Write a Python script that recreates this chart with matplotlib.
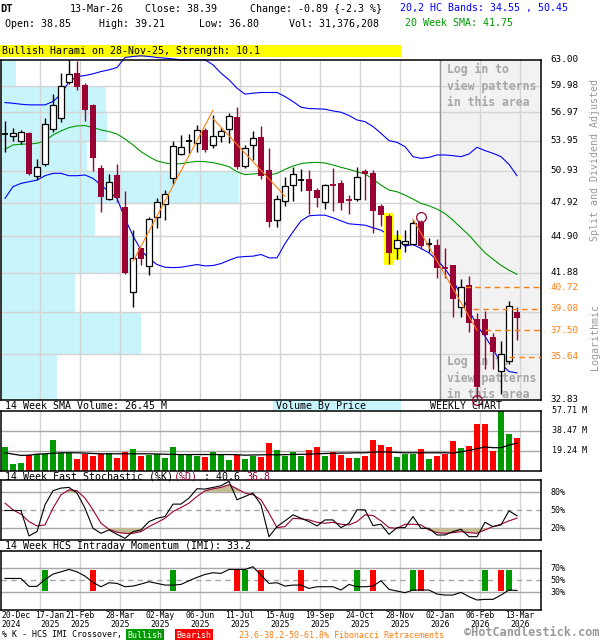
import numpy as np
import matplotlib
matplotlib.use('Agg')
import matplotlib.pyplot as plt
from matplotlib.patches import Rectangle
from matplotlib.transforms import blended_transform_factory
from matplotlib.ticker import NullLocator

plt.rcParams['font.family'] = 'DejaVu Sans Mono'

# DT weekly bars, 20-Dec-2024 .. 13-Mar-2026
opens = [54.60, 54.42, 53.97, 54.77, 50.45, 51.63, 55.23, 56.40, 60.37, 61.47,
         60.06, 57.80, 51.17, 48.21, 50.52, 47.50, 40.36, 43.95, 42.43, 46.62,
         47.74, 50.19, 52.64, 53.90, 53.69, 55.05, 53.49, 54.42, 55.16, 56.48,
         51.40, 53.52, 54.38, 51.00, 46.38, 48.08, 49.52, 49.98, 50.13, 49.08,
         47.99, 49.65, 49.75, 48.20, 48.27, 50.90, 50.71, 47.62, 46.71, 43.93,
         44.26, 44.26, 46.18, 44.20, 44.15, 42.37, 42.48, 39.23, 40.88, 38.29,
         38.29, 36.98, 34.69, 35.32, 38.85]
highs = [56.04, 55.26, 55.09, 54.90, 52.06, 56.40, 58.99, 61.43, 63.00, 62.82,
         60.25, 57.90, 51.50, 50.62, 51.60, 48.98, 45.44, 43.95, 46.65, 48.36,
         49.08, 53.93, 54.56, 54.63, 55.62, 55.33, 56.70, 55.26, 56.95, 57.58,
         53.52, 54.98, 55.55, 53.25, 48.61, 50.32, 51.33, 51.10, 51.00, 49.30,
         49.62, 51.17, 50.06, 48.61, 51.27, 51.10, 51.00, 47.77, 46.83, 45.44,
         45.44, 46.38, 46.30, 44.80, 44.66, 43.93, 42.48, 41.35, 41.59, 38.78,
         38.88, 37.32, 36.70, 39.64, 39.21]
lows = [52.84, 53.93, 53.59, 50.52, 50.03, 51.43, 54.91, 55.97, 60.20, 59.49,
        56.04, 50.90, 47.07, 48.15, 47.99, 41.76, 39.21, 42.48, 41.67, 45.59,
        46.35, 49.68, 52.50, 52.74, 52.84, 52.84, 53.25, 53.86, 53.69, 51.10,
        51.17, 51.99, 50.13, 45.74, 45.74, 47.62, 48.05, 48.98, 46.89, 47.50,
        47.32, 47.13, 47.22, 46.89, 48.05, 48.11, 45.21, 45.79, 42.62, 43.03,
        43.59, 44.15, 43.82, 43.59, 41.46, 41.46, 38.46, 38.46, 37.37, 32.83,
        34.82, 34.82, 33.19, 35.16, 36.80]
closes = [54.70, 54.73, 54.84, 50.65, 51.27, 55.69, 57.76, 59.91, 61.31, 59.87,
          57.25, 52.23, 48.46, 49.81, 48.30, 41.89, 43.11, 43.00, 46.41, 47.93,
          48.67, 53.42, 53.28, 53.95, 55.05, 53.01, 54.42, 54.95, 56.55, 51.33,
          53.25, 54.21, 50.45, 46.18, 48.21, 49.46, 50.62, 50.00, 49.01, 48.36,
          49.55, 49.49, 47.90, 48.10, 50.29, 50.60, 47.16, 46.77, 43.48, 44.58,
          44.49, 46.03, 44.09, 44.25, 42.29, 42.21, 39.82, 40.78, 38.02, 33.61,
          37.18, 35.96, 35.84, 39.26, 38.39]

upper_band = [58.06, 57.98, 57.87, 57.80, 57.80, 57.80, 58.17, 59.00, 60.45, 61.03,
              61.15, 61.35, 61.62, 61.82, 62.10, 63.30, 63.43, 63.51, 63.43, 63.30,
              63.22, 63.14, 63.02, 63.02, 63.02, 63.02, 62.42, 61.43, 60.65, 59.68,
              59.00, 59.11, 59.19, 59.19, 59.19, 58.73, 58.17, 57.54, 57.39, 57.36,
              57.32, 57.13, 56.99, 56.63, 56.15, 55.97, 55.44, 54.73, 53.96, 53.79,
              53.35, 52.33, 52.16, 52.26, 52.50, 52.50, 52.43, 52.33, 52.60, 53.28,
              52.94, 52.67, 52.33, 51.56, 50.45]
lower_band = [48.30, 49.40, 49.71, 49.87, 50.03, 50.45, 50.68, 50.68, 50.45, 50.45,
              50.52, 50.19, 49.55, 48.92, 48.30, 46.47, 44.95, 43.73, 43.03, 42.54,
              42.32, 42.29, 42.32, 42.43, 42.54, 42.43, 42.46, 42.62, 42.89, 43.14,
              43.20, 43.23, 43.37, 43.09, 43.09, 44.29, 45.30, 46.26, 46.71, 46.77,
              46.77, 46.53, 46.26, 46.00, 45.94, 45.88, 45.65, 45.44, 45.01, 44.72,
              44.07, 44.21, 43.87, 43.51, 42.89, 42.21, 41.27, 40.10, 38.96, 37.85,
              37.06, 36.19, 35.16, 34.64, 34.55]
sma20 = [53.08, 53.52, 53.59, 53.62, 53.69, 53.93, 54.56, 54.98, 55.33, 55.51,
         55.55, 55.33, 55.09, 54.91, 54.66, 54.14, 53.52, 52.84, 52.33, 51.90,
         51.70, 51.60, 51.63, 51.76, 51.86, 51.83, 51.73, 51.56, 51.33, 50.84,
         50.55, 50.62, 50.68, 50.52, 50.68, 51.07, 51.40, 51.63, 51.73, 51.76,
         51.70, 51.50, 51.27, 51.07, 50.84, 50.62, 50.13, 49.55, 49.08, 48.92,
         48.61, 48.24, 47.84, 47.62, 47.32, 46.92, 46.32, 45.65, 45.01, 44.23,
         43.51, 42.98, 42.48, 42.08, 41.75]

# volume in millions
volumes = [22.4, 6.1, 7.0, 15.2, 16.4, 16.4, 29.6, 17.1, 17.1, 10.8,
           16.1, 13.6, 16.1, 17.1, 11.7, 18.3, 21.1, 13.6, 14.6, 16.1,
           11.7, 23.0, 14.9, 14.6, 13.6, 12.7, 17.4, 14.9, 9.9, 15.2,
           10.8, 13.9, 12.7, 26.8, 20.2, 13.6, 17.4, 13.6, 20.2, 23.0,
           13.9, 18.3, 14.6, 11.7, 11.7, 13.6, 29.6, 24.9, 23.0, 12.7,
           15.5, 15.5, 21.1, 10.8, 13.6, 16.1, 28.6, 22.1, 24.0, 44.6,
           44.6, 19.2, 57.71, 35.2, 31.38]
vol_sma = [17.1, 15.8, 14.6, 14.8, 15.8, 16.1, 16.6, 17.1, 17.1, 17.1,
           16.8, 16.4, 16.1, 16.1, 16.1, 16.1, 16.1, 16.1, 16.1, 15.9,
           15.7, 15.5, 15.4, 15.4, 15.4, 15.4, 15.4, 15.4, 15.4, 15.2,
           14.8, 15.0, 15.1, 15.2, 15.1, 15.3, 15.5, 15.6, 15.8, 16.1,
           16.4, 16.6, 16.8, 16.9, 17.1, 17.1, 17.7, 18.0, 17.8, 17.4,
           17.1, 17.1, 17.1, 17.1, 17.1, 17.1, 16.8, 18.0, 19.4, 21.0,
           22.7, 22.0, 22.0, 24.5, 26.45]

stoch_k = [49.4, 49.4, 49.4, 7.2, 14.4, 58.8, 82.2, 86.6, 87.7, 78.3,
           53.3, 19.9, 11.6, 17.2, 9.9, 3.3, 14.4, 17.2, 31.0, 36.6,
           39.4, 60.0, 60.0, 70.0, 85.5, 85.0, 87.7, 90.5, 97.7, 67.2,
           72.7, 78.3, 58.8, 6.0, 22.7, 32.2, 42.2, 36.6, 31.0, 23.8,
           33.8, 33.8, 21.0, 28.3, 50.5, 50.5, 24.4, 26.6, 9.9, 21.0,
           21.0, 39.4, 19.9, 19.9, 8.8, 8.8, 14.4, 18.3, 6.0, 6.0,
           29.9, 22.7, 25.5, 48.8, 40.6]
stoch_d = [61.6, 50.5, 43.3, 31.0, 23.8, 25.5, 53.3, 75.5, 83.8, 82.2,
           70.0, 50.5, 28.3, 18.3, 13.3, 11.6, 11.6, 14.4, 22.7, 29.4,
           36.6, 47.7, 54.4, 61.6, 72.7, 82.2, 85.5, 87.7, 92.2, 85.5,
           78.3, 75.5, 67.2, 45.0, 21.0, 22.7, 36.6, 35.5, 33.8, 29.9,
           28.3, 29.9, 26.6, 25.5, 31.0, 42.2, 41.1, 32.2, 21.0, 19.9,
           26.6, 26.6, 25.5, 17.2, 12.7, 11.6, 12.7, 14.4, 12.7, 11.6,
           17.2, 22.7, 26.6, 32.2, 36.8]

imi = [53.3, 53.3, 53.3, 40.0, 40.0, 51.6, 60.5, 64.4, 68.3, 64.4,
       57.2, 46.6, 39.4, 46.1, 45.0, 39.4, 40.5, 43.9, 47.8, 45.0,
       42.2, 42.2, 43.3, 49.4, 55.0, 60.0, 62.8, 61.7, 68.3, 68.3,
       68.3, 72.8, 58.9, 45.0, 46.1, 40.5, 42.2, 42.2, 36.6, 39.4,
       39.4, 39.4, 33.9, 43.3, 39.4, 39.4, 40.5, 49.4, 35.0, 32.2,
       29.4, 33.9, 33.9, 33.9, 27.2, 25.5, 25.5, 30.0, 22.8, 17.2,
       18.3, 18.3, 25.5, 33.9, 33.2]
imi_bull = [5, 21, 30, 44, 51, 60, 63]
imi_bear = [11, 29, 32, 37, 46, 52, 62]

price_grid = [59.98, 56.97, 53.95, 50.93, 47.92, 44.90, 41.88, 38.87, 35.85]
price_labels = [63.00, 59.98, 56.97, 53.95, 50.93, 47.92, 44.90, 41.88, 32.83]
fib_levels = [40.72, 39.08, 37.50, 35.64]
fib_start = [57.5, 58.5, 60.0, 63.0]
vbp_edges = [32.83, 35.85, 38.87, 41.88, 44.90, 47.92, 50.93, 53.95, 56.97, 59.98, 63.00]
vbp_share = [10.4, 25.9, 13.7, 24.6, 17.4, 44.1, 15.9, 19.6, 19.4, 2.8]  # % of width
zig_x = [[16, 26], [26, 35], [51, 59]]
zig_y = [[42.8, 57.2], [56.3, 48.5], [46.4, 37.5]]

date_labels = ['20-Dec\n2024', '17-Jan\n2025', '21-Feb\n2025', '28-Mar\n2025', '02-May\n2025',
               '06-Jun\n2025', '11-Jul\n2025', '15-Aug\n2025', '19-Sep\n2025', '24-Oct\n2025',
               '28-Nov\n2025', '02-Jan\n2026', '06-Feb\n2026', '13-Mar\n2026']
date_pos = [-0.5, 5.6] + [i + 0.375 for i in range(9, 65, 5)]

W, H = 600, 640
RED = '#990033'
ORANGE = '#ff7f0e'
GRID = '#d4d4d4'
x = np.arange(len(closes))
XL = (-0.5, 67.0)
grid_x = np.arange(4, 65, 5) + 0.375

fig = plt.figure(figsize=(6, 6.4), dpi=100)


def px_axes(x0, y0, x1, y1):
    return fig.add_axes([x0 / W, 1 - y1 / H, (x1 - x0) / W, (y1 - y0) / H])


def ptext(xp, yp, s, **kw):
    kw.setdefault('fontsize', 7.2)
    fig.text(xp / W, 1 - yp / H, s, va='center', **kw)


def frame(ax):
    ax.set_xlim(*XL)
    ax.set_xticks([])
    ax.set_yticks([])
    for s in ax.spines.values():
        s.set_linewidth(1.1)
    for g in grid_x:
        ax.axvline(g, color=GRID, lw=1.0, zorder=0.5)


# ---------------- header ----------------
ptext(0, 9, 'DT', fontweight='bold', fontsize=7.5)
ptext(70, 9, '13-Mar-26')
ptext(145, 9, f'Close: {closes[-1]:.2f}')
ptext(250, 9, 'Change: -0.89 {-2.3 %}')
ptext(400, 8, f'20,2 HC Bands: {lower_band[-1]:.2f} , {upper_band[-1]:.2f}', color='#0000ff')
ptext(5, 24, f'Open: {opens[-1]:.2f}')
ptext(99, 24, f'High: {highs[-1]:.2f}')
ptext(199, 24, f'Low: {lows[-1]:.2f}')
ptext(289, 24, 'Vol: 31,376,208')
ptext(405, 23, f'20 Week SMA: {sma20[-1]:.2f}', color='#009900')
fig.patches.append(Rectangle((0, 1 - 57 / H), 401 / W, 12 / H, transform=fig.transFigure,
                             facecolor='#ffff00', edgecolor='none', zorder=-1))
ptext(2, 51, 'Bullish Harami on 28-Nov-25, Strength: 10.1')

# ---------------- main price panel ----------------
ax = px_axes(1, 60, 541, 399.5)
frame(ax)
ax.set_yscale('log')
ax.set_ylim(vbp_edges[0], vbp_edges[-1])
ax.yaxis.set_minor_locator(NullLocator())
ax.set_yticks([])
trans = blended_transform_factory(ax.transAxes, ax.transData)

for p in price_grid:
    ax.axhline(p, color=GRID, lw=1.0, zorder=0.5)
ax.axvspan(54.375, XL[1], color='#f2f2f2', zorder=0.1)
ax.axvline(54.375, color='#999999', lw=1.0, zorder=0.6)

# volume by price
for k in range(len(vbp_share)):
    lo, hi = vbp_edges[k], vbp_edges[k + 1]
    ax.add_patch(Rectangle((0, lo), vbp_share[k] / 100, hi - lo, transform=trans,
                           facecolor='#c8f4fc', edgecolor='none', zorder=0.2))

for yy in (0.99, 0.13):
    ax.text((447 - 1) / 540, yy, 'Log in to\nview patterns\nin this area', transform=ax.transAxes,
            va='top', ha='left', fontsize=8.3, fontweight='bold', color='#a6a6a6',
            linespacing=1.3, zorder=1)

ax.plot(x, upper_band, color='#0000ff', lw=0.8, zorder=2, clip_on=False)
ax.plot(x, lower_band, color='#0000ff', lw=0.8, zorder=2)
ax.plot(x, sma20, color='#009900', lw=0.8, zorder=2)

# bullish harami highlight
ax.bar(48, highs[48] * 1.002 - lows[48] * 0.998, bottom=lows[48] * 0.998, width=1.35,
       color='#ffff00', zorder=2.5)
ax.bar(49, highs[49] * 0.99 - lows[49] * 0.997, bottom=lows[49] * 0.997, width=0.9,
       color='#ffff00', zorder=2.5)

for i in x:
    o, h, l, c = opens[i], highs[i], lows[i], closes[i]
    up = c >= o
    col = 'black' if up else RED
    ax.vlines(i, l, h, color=col, lw=1.0, zorder=3)
    if abs(c - o) < 0.004 * o:
        ax.hlines((o + c) / 2, i - 0.4, i + 0.4, color=col, lw=1.3, zorder=4)
    elif up:
        ax.bar(i, c - o, bottom=o, width=0.72, facecolor='white', edgecolor='black',
               lw=0.9, zorder=4)
    else:
        ax.bar(i, o - c, bottom=c, width=0.72, color=RED, lw=0, zorder=4)

for zx, zy in zip(zig_x, zig_y):
    ax.plot(zx, zy, color=ORANGE, lw=0.8, zorder=5)

for lv, st in zip(fib_levels, fib_start):
    ax.hlines(lv, st, XL[1], colors=ORANGE, linestyles=(0, (4, 3)), lw=1.0, zorder=5)
    ax.text(1.017, lv, f'{lv:.2f}', transform=trans, va='center', ha='left',
            fontsize=6.7, color=ORANGE, clip_on=False)

ax.plot([52], [highs[52] * 1.006], marker='o', ms=7, mfc='none', mec=RED, mew=0.9, zorder=6)
ax.plot([59], [lows[59]], marker='o', ms=7, mfc='none', mec=RED, mew=0.9, zorder=6,
        clip_on=False)

for p in price_labels:
    ax.text(1.017, p, f'{p:.2f}', transform=trans, va='center', ha='left',
            fontsize=6.7, color='black', clip_on=False)

ptext(595, 160, 'Split and Dividend Adjusted', rotation=90, ha='center', color='#999999')
ptext(595, 337, 'Logarithmic', rotation=90, ha='center', color='#999999')

# ---------------- volume panel ----------------
av = px_axes(1, 410.7, 541, 470.5)
frame(av)
vmax = max(volumes)
av.set_ylim(0, vmax)
for lv in (vmax / 3, 2 * vmax / 3):
    av.axhline(lv, color='#a8a8a8', lw=1.0, zorder=0.5)
vcol = ['#009900' if c >= o else '#ff0000' for o, c in zip(opens, closes)]
av.bar(x, volumes, width=0.72, color=vcol, zorder=2)
av.plot(x, vol_sma, color='black', lw=0.9, zorder=3)
vtrans = blended_transform_factory(av.transAxes, av.transData)
for lv in (vmax, 2 * vmax / 3, vmax / 3):
    av.text(1.02, lv, f'{lv:.2f} M', transform=vtrans, va='center', ha='left',
            fontsize=6.0, clip_on=False)

ptext(5, 406, f'14 Week SMA Volume: {vol_sma[-1]:.2f} M')
fig.patches.append(Rectangle((273 / W, 1 - 410.5 / H), 128 / W, 10.5 / H, transform=fig.transFigure,
                             facecolor='#c8f4fc', edgecolor='none', zorder=-1))
ptext(276, 406, 'Volume By Price')
ptext(430, 406, 'WEEKLY CHART')

# ---------------- stochastic panel ----------------
a2 = px_axes(1, 480, 541, 540.3)
frame(a2)
a2.set_ylim(0, 100)
for lv, ls in [(80, '-'), (50, (0, (4, 3))), (20, '-')]:
    a2.axhline(lv, color='#a8a8a8', lw=1.0, ls=ls, zorder=0.5)
D = np.array(stoch_d)
a2.fill_between(x, D, 80, where=D > 80, interpolate=True, color='#c4bc92', lw=0, zorder=1)
a2.fill_between(x, D, 20, where=D < 20, interpolate=True, color='#c4bc92', lw=0, zorder=1)
a2.plot(x, stoch_d, color=RED, lw=0.8, zorder=2)
a2.plot(x, stoch_k, color='black', lw=0.8, zorder=3)
strans = blended_transform_factory(a2.transAxes, a2.transData)
for lv in (80, 50, 20):
    a2.text(1.017, lv, f'{lv}%', transform=strans, va='center', ha='left',
            fontsize=6.0, clip_on=False)
ptext(5, 476.5, '14 Week Fast Stochastic (%K)')
ptext(173.6, 476.5, '(%D)', color=RED)
ptext(197.7, 476.5, f' : {stoch_k[-1]:.1f} ')
ptext(245.9, 476.5, f'{stoch_d[-1]:.1f}', color=RED)

# ---------------- IMI panel ----------------
a3 = px_axes(1, 550.5, 541, 610.3)
frame(a3)
a3.set_ylim(0, 100)
for lv, ls in [(70, '-'), (50, (0, (4, 3))), (30, '-')]:
    a3.axhline(lv, color='#a8a8a8', lw=1.0, ls=ls, zorder=0.5)
a3.bar(imi_bull, 35, bottom=32, width=0.72, color='#009900', zorder=2)
a3.bar(imi_bear, 35, bottom=32, width=0.72, color='#ff0000', zorder=2)
a3.plot(x, imi, color='black', lw=0.8, zorder=3)
itrans = blended_transform_factory(a3.transAxes, a3.transData)
for lv in (70, 50, 30):
    a3.text(1.017, lv, f'{lv}%', transform=itrans, va='center', ha='left',
            fontsize=6.0, clip_on=False)
ptext(5, 546, f'14 Week HCS Intraday Momentum (IMI): {imi[-1]:.1f}')

xt = blended_transform_factory(a3.transData, fig.transFigure)
for k, (lab, pos) in enumerate(zip(date_labels, date_pos)):
    a3.text(pos, 1 - 611 / H, lab, transform=xt, ha='left' if k == 0 else 'center',
            va='top', fontsize=5.8, linespacing=1.0, clip_on=False)

# ---------------- footer ----------------
ptext(2, 635, '% K - HCS IMI Crossover,', fontsize=6.0)
ptext(145, 635, 'Bullish', ha='center', color='white', fontsize=6.0,
      bbox=dict(facecolor='#009900', edgecolor='none', pad=1.4))
ptext(194, 635, 'Bearish', ha='center', color='white', fontsize=6.0,
      bbox=dict(facecolor='#ff0000', edgecolor='none', pad=1.4))
ptext(239, 635, '23.6-38.2-50-61.8% Fibonacci Retracements', color=ORANGE, fontsize=6.0)
ptext(464, 633, '\u00a9HotCandlestick.com', color='#9a9a9a', fontsize=8.6, fontweight='bold')

fig.savefig('out.png', dpi=100)
